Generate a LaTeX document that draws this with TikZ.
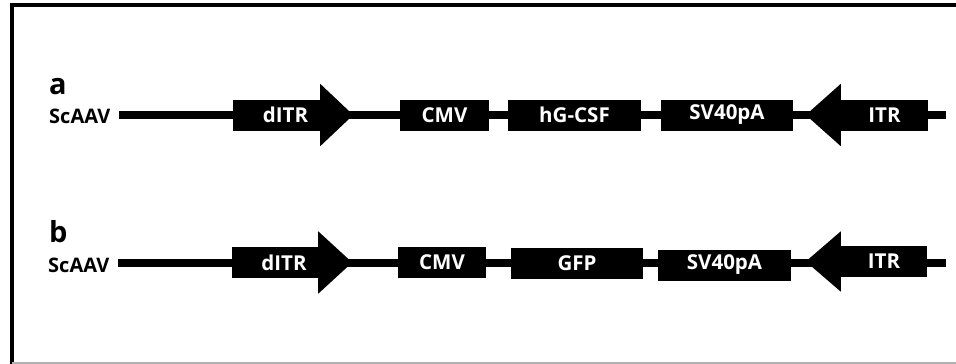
\documentclass[tikz,border=0pt]{standalone}
\usepackage{fontspec}
\setmainfont{Open Sans}
\usetikzlibrary{calc}

\tikzset{
		part/.style={fill=black, text=white, inner sep=0pt, minimum height=31pt,
			font=\bfseries\fontsize{20.5}{24}\selectfont},
		tag/.style={text=white, inner sep=0pt, font=\bfseries\fontsize{20.5}{24}\selectfont},
		backbone/.style={line width=8.5pt},
		vector/.style={anchor=west, inner sep=0pt, font=\bfseries\fontsize{20}{24}\selectfont},
		panel/.style={anchor=base west, inner sep=0pt, font=\bfseries\fontsize{29}{32}\selectfont},
		frame/.style={line width=4pt}
	}

\begin{document}
\begin{tikzpicture}[x=1pt, y=-1pt]
				\useasboundingbox (0,0) rectangle (956,364);
				% outer frame
				\draw[frame] (12,366) -- (12,5) -- (958,5);
				\draw[gray!60, line width=1.5pt] (12,363) -- (958,363);

				% construct a
				\node[panel] (pa) at (49,94) {a};
				\node[vector] (va) at (49,116) {ScAAV};
				\coordinate (ea) at (946,115);
				\draw[backbone] ([xshift=9pt]va.east |- ea) -- (ea);
				\node[part, minimum width=87pt,
					label={[tag, xshift=9pt]center:dITR}] (da) at (276.5,115) {};
				\fill ([yshift=15.5pt]da.north east) -- ([xshift=33pt]da.east)
					-- ([yshift=-15.5pt]da.south east) -- cycle;
				\node[part, minimum width=89pt] (ca) at (444.5,115) {CMV};
				\node[part, minimum width=133pt] (ga) at (574.5,115) {hG-CSF};
				\node[part, minimum width=132pt] (sa) at (727,115) {SV40pA};
				\node[part, minimum width=87pt] (ia) at (884.5,115) {ITR};
				\fill ([yshift=15.5pt]ia.north west) -- ([xshift=-35pt]ia.west)
					-- ([yshift=-15.5pt]ia.south west) -- cycle;

				% construct b
				\node[panel] (pb) at (49,242) {b};
				\node[vector] (vb) at (48,265) {ScAAV};
				\coordinate (eb) at (946,263);
				\draw[backbone] ([xshift=9pt]vb.east |- eb) -- (eb);
				\node[part, minimum width=86pt,
					label={[tag, xshift=9pt]center:dITR}] (db) at (275,262.5) {};
				\fill ([yshift=15.5pt]db.north east) -- ([xshift=34pt]db.east)
					-- ([yshift=-15.5pt]db.south east) -- cycle;
				\node[part, minimum width=88pt] (cb) at (442,262.5) {CMV};
				\node[part, minimum width=132pt] (gb) at (577,263.5) {GFP};
				\node[part, minimum width=133pt] (sb) at (724.5,265) {SV40pA};
				\node[part, minimum width=86pt] (ib) at (884,261.5) {ITR};
				\fill ([yshift=14.5pt]ib.north west) -- ([xshift=-35pt]ib.west)
					-- ([yshift=-14.5pt]ib.south west) -- cycle;
			\end{tikzpicture}
\end{document}
